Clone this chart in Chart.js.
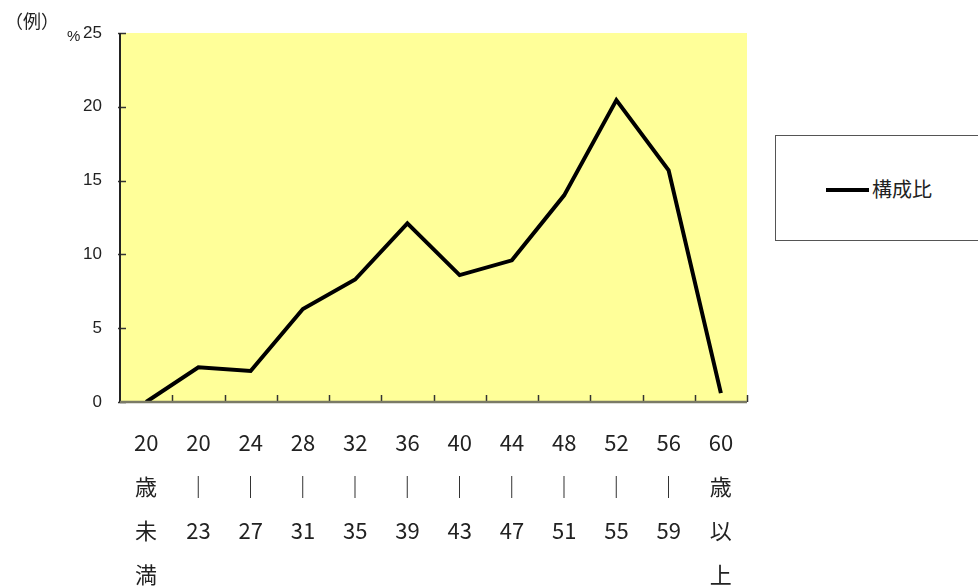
<!DOCTYPE html>
<html>
<head>
<meta charset="utf-8">
<script src="https://cdn.jsdelivr.net/npm/chart.js@4"></script>
<style>
    body { margin: 0; background: #fff; }
    #wrap { position: relative; width: 978px; height: 586px; overflow: hidden; }
    #chart { position: absolute; left: 0; top: 0; }
    .note { position: absolute; font-family: "Noto Sans CJK JP", sans-serif; color: #222; }
    #legendBox {
        position: absolute; left: 775px; top: 135px; width: 220px; height: 106px;
        border: 1px solid #555; box-sizing: border-box; background: #fff;
    }
    #legendLine { position: absolute; left: 50px; top: 52px; width: 43px; height: 4px; background: #000; }
    #legendText { position: absolute; left: 96px; top: 38px; font-size: 20px; }
</style>
</head>
<body>
<div id="wrap">
    <canvas id="chart" width="978" height="586"></canvas>
    <div class="note" style="left:5px; top:7px; font-size:18px;">（例）</div>
    <div class="note" style="left:67px; top:27px; font-size:15px; font-family:'Liberation Sans',sans-serif;">%</div>
    <div id="legendBox">
        <div id="legendLine"></div>
        <div id="legendText" class="note">構成比</div>
    </div>
</div>
<script>
// age groups (multi-line labels, drawn top to bottom)
const ageLabels = [
    ['20', '歳', '未', '満'],
    ['20', '｜', '23'],
    ['24', '｜', '27'],
    ['28', '｜', '31'],
    ['32', '｜', '35'],
    ['36', '｜', '39'],
    ['40', '｜', '43'],
    ['44', '｜', '47'],
    ['48', '｜', '51'],
    ['52', '｜', '55'],
    ['56', '｜', '59'],
    ['60', '歳', '以', '上']
];

// composition ratio (%)
const ratioValues = [0, 2.35, 2.1, 6.3, 8.3, 12.1, 8.6, 9.6, 14.0, 20.45, 15.7, 0.6];

const yTicks = [0, 5, 10, 15, 20, 25];

// plot background + inward tick marks
const plotDecor = {
    id: 'plotDecor',
    beforeDraw(chart) {
        const { ctx, chartArea } = chart;
        ctx.save();
        ctx.fillStyle = '#FFFF99';
        ctx.fillRect(chartArea.left, chartArea.top, chartArea.right - chartArea.left, chartArea.bottom - chartArea.top);
        ctx.restore();
    },
    afterDatasetsDraw(chart) {
        const { ctx, chartArea, scales } = chart;
        ctx.save();
        ctx.strokeStyle = '#333';
        ctx.lineWidth = 1.5;
        yTicks.forEach(v => {
            const y = Math.round(scales.y.getPixelForValue(v)) + 0.5;
            ctx.beginPath();
            ctx.moveTo(chartArea.left - 2, y);
            ctx.lineTo(chartArea.left + 6, y);
            ctx.stroke();
        });
        const step = scales.x.getPixelForValue(1) - scales.x.getPixelForValue(0);
        for (let i = 1; i <= ageLabels.length; i++) {
            const x = Math.round(scales.x.getPixelForValue(i) - step / 2) + 0.5;
            ctx.beginPath();
            ctx.moveTo(x, chartArea.bottom);
            ctx.lineTo(x, chartArea.bottom - 7);
            ctx.stroke();
        }
        // axes
        ctx.strokeStyle = '#222';
        ctx.lineWidth = 2;
        ctx.beginPath();
        ctx.moveTo(chartArea.left, chartArea.top);
        ctx.lineTo(chartArea.left, chartArea.bottom);
        ctx.stroke();
        ctx.strokeStyle = '#7a7a66';
        ctx.lineWidth = 2.5;
        ctx.beginPath();
        ctx.moveTo(chartArea.left, chartArea.bottom);
        ctx.lineTo(chartArea.right, chartArea.bottom);
        ctx.stroke();
        ctx.restore();
    }
};

const ctx = document.getElementById('chart').getContext('2d');
new Chart(ctx, {
    type: 'line',
    data: {
        labels: ageLabels,
        datasets: [{
            label: '構成比',
            data: ratioValues,
            borderColor: '#000',
            borderWidth: 4,
            pointRadius: 0,
            tension: 0,
            fill: false
        }]
    },
    options: {
        responsive: false,
        animation: false,
        layout: { padding: { left: 0, right: 231, top: 33, bottom: 0 } },
        scales: {
            x: {
                offset: true,
                grid: { display: false, drawTicks: false },
                border: { display: false },
                ticks: {
                    autoSkip: false,
                    maxRotation: 0,
                    padding: 19,
                    color: '#222',
                    font: { family: '"Noto Sans CJK JP", sans-serif', size: 22, lineHeight: 2.0 }
                },
                afterFit(scale) { scale.height = 184; }
            },
            y: {
                min: 0,
                max: 25,
                grid: { display: false, drawTicks: false },
                border: { display: false },
                ticks: {
                    stepSize: 5,
                    padding: 18,
                    color: '#222',
                    font: { family: '"Liberation Sans", Arial, sans-serif', size: 17 }
                },
                afterFit(scale) { scale.width = 120; }
            }
        },
        plugins: {
            legend: { display: false },
            tooltip: { enabled: false }
        }
    },
    plugins: [plotDecor]
});
</script>
</body>
</html>
